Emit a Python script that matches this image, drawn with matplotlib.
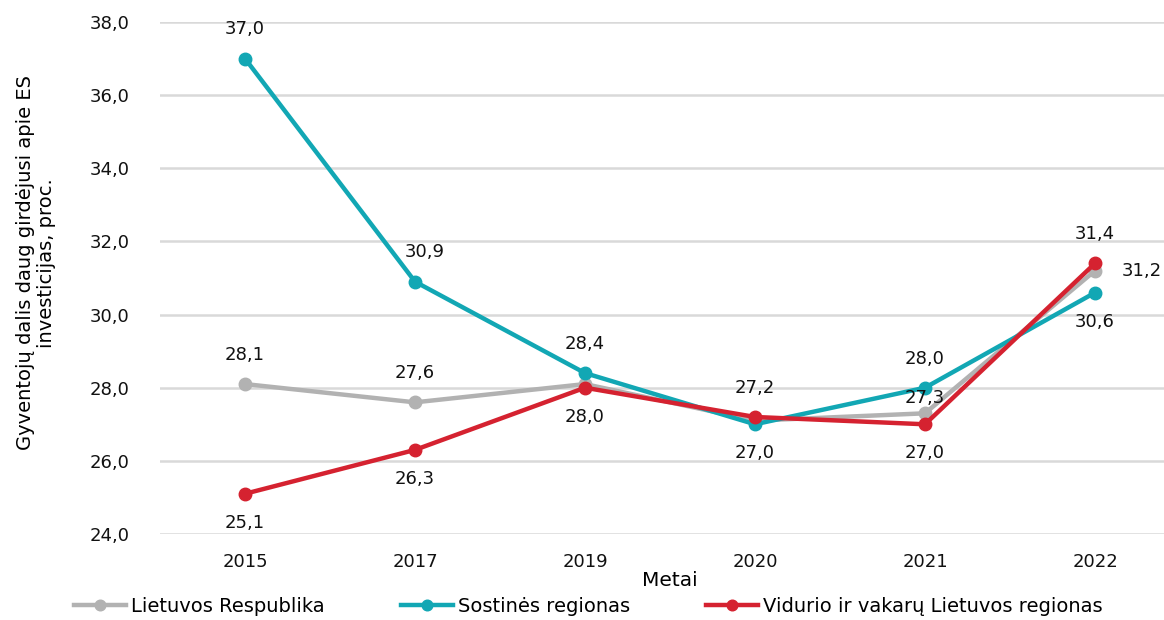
import matplotlib.pyplot as plt

years = ["2015", "2017", "2019", "2020", "2021", "2022"]
lr = [28.1, 27.6, 28.1, 27.1, 27.3, 31.2]
sostines = [37.0, 30.9, 28.4, 27.0, 28.0, 30.6]
vidurio = [25.1, 26.3, 28.0, 27.2, 27.0, 31.4]

# which labels are shown and where: (index, dx, dy) in points
lr_labels = [(0, 0, 21), (1, 0, 21), (4, 0, 11), (5, 34, 0)]
sost_labels = [(0, 0, 21), (1, 7, 21), (2, 0, 21), (3, 0, -21), (4, 0, 21), (5, 0, -21)]
vid_labels = [(0, 0, -21), (1, 0, -21), (2, 0, -21), (3, 0, 21), (4, 0, -21), (5, 0, 21)]

GREY = "#B2B2B2"
TEAL = "#12A7B4"
RED = "#D52230"
FS = 13
FS_TEXT = 14

plt.rcParams["font.family"] = ["DejaVu Sans"]

fig = plt.figure(figsize=(11.64, 6.2), dpi=100)
ax = fig.add_axes([160 / 1164, 1 - 534 / 620, 1020 / 1164, 512 / 620])

x = list(range(len(years)))
series = [
    ("Lietuvos Respublika", lr, GREY, lr_labels),
    ("Sostinės regionas", sostines, TEAL, sost_labels),
    ("Vidurio ir vakarų Lietuvos regionas", vidurio, RED, vid_labels),
]
for name, vals, col, labs in series:
    ax.plot(x, vals, color=col, lw=3.2, marker="o", ms=9, label=name, zorder=3)
    for i, dx, dy in labs:
        ax.annotate(f"{vals[i]:.1f}".replace(".", ","), (x[i], vals[i]),
                    xytext=(dx, dy), textcoords="offset points",
                    ha="center", va="center", fontsize=FS, color="#111111", zorder=5)

ax.set_xlim(-0.5, len(years) - 0.5)
ax.set_ylim(24, 38)
ax.set_yticks([24, 26, 28, 30, 32, 34, 36, 38])
ax.set_yticklabels([f"{v:.1f}".replace(".", ",") for v in ax.get_yticks()])
ax.set_xticks(x)
ax.set_xticklabels(years)
ax.tick_params(length=0, labelsize=FS, colors="#111111")
ax.tick_params(axis="x", pad=14)
ax.tick_params(axis="y", pad=22)
ax.grid(axis="y", color="#D9D9D9", lw=1.8)
ax.set_axisbelow(True)
for s in ax.spines.values():
    s.set_visible(False)

ax.set_xlabel("Metai", fontsize=14.5, labelpad=0)
fig.text(36 / 1164, 1 - 263 / 620, "Gyventojų dalis daug girdėjusi apie ES\ninvesticijas, proc.",
         rotation=90, ha="center", va="center", fontsize=FS_TEXT, multialignment="center",
         linespacing=1.1)

fig.legend(loc="lower left", bbox_to_anchor=(66 / 1164, -0.006), ncol=3, frameon=False,
           fontsize=FS_TEXT, handlelength=2.7, handletextpad=0.25, columnspacing=3.9,
           markerscale=0.85, borderaxespad=0)

fig.savefig("out.png", dpi=100)
